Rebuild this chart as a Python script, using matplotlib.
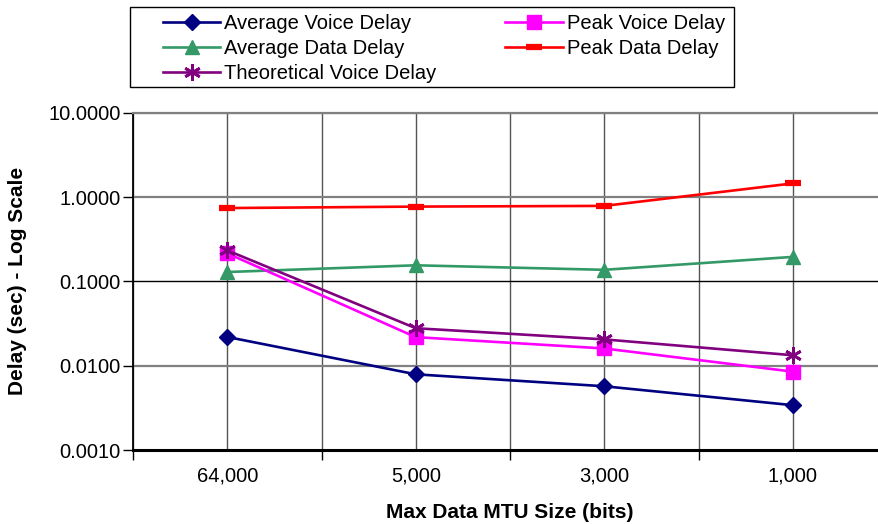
import numpy as np
import matplotlib
matplotlib.use("Agg")
import matplotlib.pyplot as plt
from matplotlib.patches import Rectangle
from matplotlib.ticker import FixedLocator, NullFormatter, FixedFormatter

plt.rcParams['font.family'] = ['Liberation Sans', 'DejaVu Sans']

mtu_labels = ["64,000", "5,000", "3,000", "1,000"]

avg_voice = [0.0219, 0.0079, 0.0057, 0.0034]
peak_voice = [0.215, 0.0218, 0.016, 0.0085]
avg_data = [0.129, 0.155, 0.137, 0.195]
peak_data = [0.74, 0.77, 0.785, 1.45]
theo_voice = [0.233, 0.0278, 0.0205, 0.0133]

W, H = 879, 524
fig = plt.figure(figsize=(W/100, H/100), dpi=100)
ax = fig.add_axes([133/W, 1 - 450/H, 754/W, (450 - 112.7)/H])

x = np.arange(len(mtu_labels))

# grid lines (at categories and between them)
for xv in np.arange(-0.5, 4.0, 0.5):
    ax.axvline(xv, color='#555555', lw=1.0, zorder=1)
for yv in [10, 1, 0.01]:
    ax.axhline(yv, color='#808080', lw=1.6, zorder=1)
ax.axhline(0.1, color='black', lw=1.0, zorder=1)

lw = 1.9
ax.plot(x, avg_voice, color='#000080', lw=lw, marker='D', ms=8.5, label='Average Voice Delay', zorder=3)
ax.plot(x, avg_data, color='#339966', lw=lw, marker='^', ms=10.5, label='Average Data Delay', zorder=3)
ax.plot(x, theo_voice, color='#800080', lw=lw, marker=(6, 2, 0), ms=12, mew=2, label='Theoretical Voice Delay', zorder=4)
ax.plot(x, peak_voice, color='#FF00FF', lw=lw, marker='s', ms=9.5, label='Peak Voice Delay', zorder=3)
ax.plot(x, peak_data, color='#FF0000', lw=lw, marker='_', ms=11, mew=4.5, label='Peak Data Delay', zorder=3)

ax.set_yscale('log')
ax.set_ylim(0.001, 10)
ax.set_xlim(-0.5, 3.5)

ax.yaxis.set_major_locator(FixedLocator([0.001, 0.01, 0.1, 1, 10]))
ax.yaxis.set_minor_locator(FixedLocator([]))
ax.set_yticklabels(["0.0010", "0.0100", "0.1000", "1.0000", "10.0000"])

ax.xaxis.set_major_locator(FixedLocator([-0.5, 0.5, 1.5, 2.5, 3.5]))
ax.xaxis.set_major_formatter(NullFormatter())
ax.xaxis.set_minor_locator(FixedLocator(list(x)))
ax.xaxis.set_minor_formatter(FixedFormatter(mtu_labels))
ax.tick_params(axis='x', which='major', length=7, width=1, direction='out', color='black')
ax.tick_params(axis='x', which='minor', length=0, pad=12, labelsize=14.5)
ax.tick_params(axis='y', which='major', length=7, width=1, direction='out', labelsize=14.5, pad=2)

ax.spines['left'].set_color('black')
ax.spines['left'].set_linewidth(1.3)
ax.spines['bottom'].set_color('black')
ax.spines['bottom'].set_linewidth(2.2)
ax.spines['top'].set_color('#808080')
ax.spines['top'].set_linewidth(1.6)
ax.spines['right'].set_visible(False)

ax.set_ylabel("Delay (sec) - Log Scale", fontsize=15, fontweight='bold')
ax.yaxis.set_label_coords((27 - 133)/754, 0.5)
fig.text(510/W, 1 - 512/H, "Max Data MTU Size (bits)", fontsize=15, fontweight='bold',
         ha='center', va='center')

# legend box
fig.patches.append(Rectangle((130/W, 1 - 87/H), (734 - 130)/W, 80/H, transform=fig.transFigure,
                             fill=False, edgecolor='black', lw=1.0))
leg = fig.legend(loc='upper left', bbox_to_anchor=(163/W, 1 - 14/H), ncol=2,
                 fontsize=14.5, frameon=False, borderpad=0, labelspacing=0.3,
                 handlelength=2.85, handletextpad=0.2, columnspacing=3.4, borderaxespad=0)

fig.savefig("out.png", dpi=100)
